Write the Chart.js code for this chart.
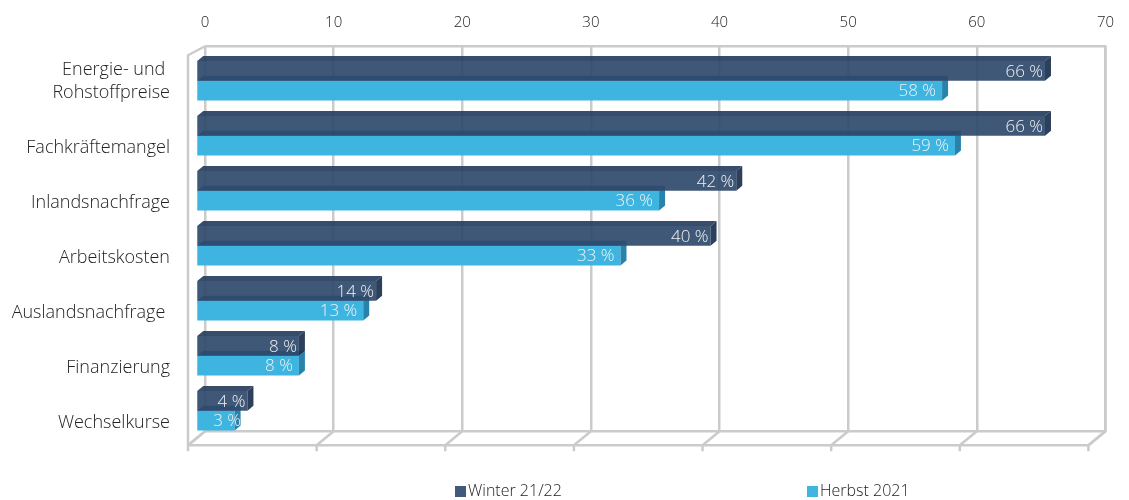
<!DOCTYPE html>
<html>
<head>
<meta charset="utf-8">
<script src="https://cdn.jsdelivr.net/npm/chart.js@4/dist/chart.umd.min.js"></script>
<style>
  html, body { margin: 0; padding: 0; background: #ffffff; }
  #wrap { position: relative; width: 1129px; height: 500px; }
  #legend { position: absolute; left: 0; top: 480px; width: 1129px; height: 20px;
            font-family: "Open Sans", "Noto Sans", sans-serif; font-weight: 300; font-size: 16px; color: #222; }
  .item { position: absolute; top: 0; white-space: nowrap; line-height: 20px; }
  .sw { display: inline-block; width: 11px; height: 11px; margin-right: 2px; vertical-align: -1px; }
</style>
</head>
<body>
<div id="wrap">
  <canvas id="c" width="1129" height="500"></canvas>
  <div id="legend"></div>
</div>
<script>
// ---- data ----
const categories = [["Energie- und ", "Rohstoffpreise", ""], "Fachkräftemangel", "Inlandsnachfrage",
                    "Arbeitskosten", "Auslandsnachfrage ", "Finanzierung", "Wechselkurse"];
const seriesNames = ["Winter 21/22", "Herbst 2021"];
const winter = [66, 66, 42, 40, 14, 8, 4];
const herbst = [58, 59, 36, 33, 13, 8, 3];
const xTickMin = 0, xTickMax = 70, xTickStep = 10;

// ---- styles ----
const FONT = '"Open Sans", "Noto Sans", sans-serif';
const colors = ["rgba(47,74,108,0.92)", "rgba(61,181,224,1)"];
const topFace = ["rgba(38,62,94,0.92)", "rgba(30,100,140,1)"];
const sideFace = ["rgba(33,54,82,0.95)", "rgba(40,130,170,1)"];
const legendColors = ["#41597a", "#3fb5df"];
const SHIFT = { x: -9, y: 7 };
const D = 6;
const GRID = "#cbcbcb";

const frame3d = {
  id: "frame3d",
  beforeDatasetsDraw(chart) {
    const { ctx, chartArea: a, scales: { x } } = chart;
    ctx.save();
    ctx.strokeStyle = GRID;
    ctx.lineWidth = 2.5;
    ctx.lineJoin = "round";
    // back wall outline
    ctx.beginPath();
    ctx.moveTo(a.left, a.top); ctx.lineTo(a.right, a.top);
    ctx.lineTo(a.right, a.bottom); ctx.lineTo(a.left, a.bottom);
    ctx.stroke();
    // left wall
    ctx.beginPath();
    ctx.moveTo(a.left, a.top); ctx.lineTo(a.left - 17, a.top + 9);
    ctx.lineTo(a.left - 17, a.bottom + 14); ctx.lineTo(a.left, a.bottom);
    ctx.stroke();
    // floor front line
    const r0 = x.getPixelForValue(xTickMax);
    ctx.beginPath();
    ctx.moveTo(a.left - 17, a.bottom + 14); ctx.lineTo(r0 - 17, a.bottom + 14);
    ctx.lineTo(r0, a.bottom);
    ctx.stroke();
    // floor ticks
    for (let v = xTickMin; v <= xTickMax; v += xTickStep) {
      const px = x.getPixelForValue(v);
      ctx.beginPath();
      ctx.moveTo(px, a.bottom); ctx.lineTo(px - 17, a.bottom + 14); ctx.lineTo(px - 17, a.bottom + 20);
      ctx.stroke();
    }
    ctx.restore();
    ctx.save();
    ctx.translate(SHIFT.x, SHIFT.y);
  },
  afterDatasetDraw(chart, args) {
    const { ctx } = chart;
    const i = args.index;
    args.meta.data.forEach((bar) => {
      const p = bar.getProps(["x", "y", "base", "height"], true);
      const top = p.y - p.height / 2, bot = p.y + p.height / 2;
      ctx.fillStyle = topFace[i];
      ctx.beginPath();
      ctx.moveTo(p.base, top); ctx.lineTo(p.base + D, top - D + 1);
      ctx.lineTo(p.x + D, top - D + 1); ctx.lineTo(p.x, top); ctx.closePath(); ctx.fill();
      ctx.fillStyle = sideFace[i];
      ctx.beginPath();
      ctx.moveTo(p.x, top); ctx.lineTo(p.x + D, top - D + 1);
      ctx.lineTo(p.x + D, bot - D + 1); ctx.lineTo(p.x, bot); ctx.closePath(); ctx.fill();
    });
  },
  afterDatasetsDraw(chart) {
    const { ctx } = chart;
    ctx.font = "300 17px " + FONT;
    ctx.fillStyle = "#f2f2f2";
    ctx.textBaseline = "middle";
    ctx.textAlign = "left";
    chart.data.datasets.forEach((ds, i) => {
      chart.getDatasetMeta(i).data.forEach((bar, j) => {
        const p = bar.getProps(["x", "y", "base"], true);
        const txt = ds.data[j] + " %";
        const w = ctx.measureText(txt).width;
        let right = p.x - (i === 0 ? 2 : 6);
        if (right - w < p.base + 16) right = p.base + 16 + w;
        ctx.fillText(txt, right - w, p.y + 1);
      });
    });
    ctx.restore();
  }
};

const chart = new Chart(document.getElementById("c"), {
  type: "bar",
  data: {
    labels: categories,
    datasets: [
      { label: seriesNames[0], data: winter, backgroundColor: colors[0], borderWidth: 0 },
      { label: seriesNames[1], data: herbst, backgroundColor: colors[1], borderWidth: 0 }
    ]
  },
  options: {
    indexAxis: "y",
    responsive: false,
    animation: false,
    devicePixelRatio: 1,
    categoryPercentage: 0.72,
    barPercentage: 1.0,
    layout: { padding: { top: 0, right: 17, bottom: 68, left: 0 } },
    plugins: { legend: { display: false }, tooltip: { enabled: false } },
    scales: {
      x: {
        position: "top",
        min: xTickMin, max: xTickMax,
        ticks: { stepSize: xTickStep, padding: 15, color: "#222", font: { family: FONT, size: 15, weight: 300 } },
        grid: { color: GRID, lineWidth: 2.5, drawTicks: false },
        border: { display: false },
        afterFit(s) { s.height = 43; }
      },
      y: {
        ticks: { autoSkip: false, padding: 35, labelOffset: 19, color: "#222",
                 font: { family: FONT, size: 18, weight: 300, lineHeight: 1.25 } },
        grid: { display: false, drawTicks: false },
        border: { display: false },
        afterFit(s) { s.width = 205; }
      }
    }
  },
  plugins: [frame3d]
});

// legend
const leg = document.getElementById("legend");
const legendX = [455, 807];
seriesNames.forEach((n, i) => {
  const d = document.createElement("div");
  d.className = "item";
  d.style.left = legendX[i] + "px";
  d.innerHTML = '<span class="sw" style="background:' + legendColors[i] + '"></span>' + n;
  leg.appendChild(d);
});
</script>
</body>
</html>
